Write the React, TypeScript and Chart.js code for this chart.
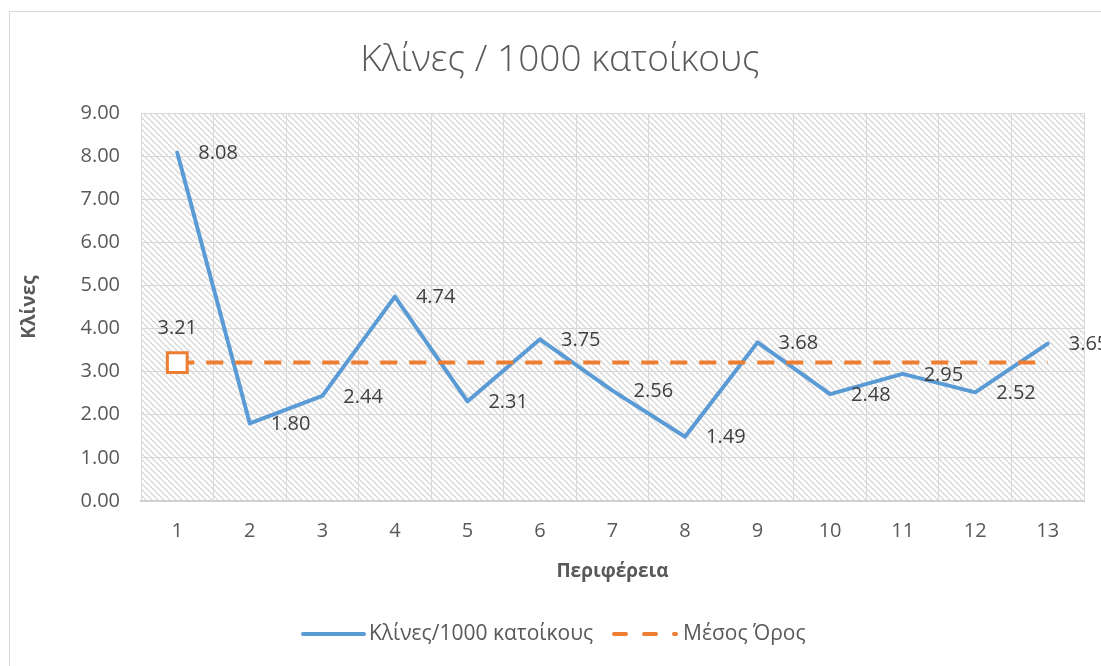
import React, { useEffect, useRef } from "react";
import { Chart, registerables } from "chart.js";

Chart.register(...registerables);

// ---- data ----
const categories = ["1", "2", "3", "4", "5", "6", "7", "8", "9", "10", "11", "12", "13"];
const bedsPer1000 = [8.08, 1.8, 2.44, 4.74, 2.31, 3.75, 2.56, 1.49, 3.68, 2.48, 2.95, 2.52, 3.65];
const meanValues = [3.21, 3.21, 3.21, 3.21, 3.21, 3.21, 3.21, 3.21, 3.21, 3.21, 3.21, 3.21, 3.21];
const yTickValues = [0, 1, 2, 3, 4, 5, 6, 7, 8, 9];
const chartTitle = "Κλίνες / 1000 κατοίκους";
const seriesNames = ["Κλίνες/1000 κατοίκους", "Μέσος Όρος"];
const xAxisTitle = "Περιφέρεια";
const yAxisTitle = "Κλίνες";

const FONT = "'Open Sans', 'Noto Sans', sans-serif";
const BLUE = "#5b9bd5";
const ORANGE = "#ed7d31";
const TEXT = "#595959";
const LABEL = "#404040";
const GRID = "#d9d9d9";

function makeHatch(): CanvasPattern | string {
  const c = document.createElement("canvas");
  c.width = 6;
  c.height = 6;
  const g = c.getContext("2d");
  if (!g) return "#fff";
  g.fillStyle = "#ffffff";
  g.fillRect(0, 0, 6, 6);
  g.strokeStyle = "#d6d6d6";
  g.lineWidth = 1.3;
  for (const o of [-6, 0, 6]) {
    g.beginPath();
    g.moveTo(o, 0);
    g.lineTo(o + 6, 6);
    g.stroke();
  }
  const p = g.createPattern(c, "repeat");
  return p || "#fff";
}

const decorPlugin = {
  id: "decor",
  beforeDraw(chart: any) {
    const { ctx, chartArea } = chart;
    ctx.save();
    ctx.fillStyle = "#ffffff";
    ctx.fillRect(0, 0, chart.width, chart.height);
    ctx.strokeStyle = GRID;
    ctx.lineWidth = 1;
    ctx.strokeRect(9.5, 11.5, 1300, 1300);
    ctx.fillStyle = makeHatch();
    ctx.fillRect(chartArea.left, chartArea.top, chartArea.right - chartArea.left, chartArea.bottom - chartArea.top);
    // chart title
    ctx.font = `300 37px ${FONT}`;
    ctx.fillStyle = TEXT;
    ctx.textAlign = "center";
    ctx.textBaseline = "middle";
    ctx.fillText(chartTitle, 560, 60);
    ctx.restore();
  },
  afterDatasetsDraw(chart: any) {
    const { ctx } = chart;
    ctx.save();
    ctx.font = `20px ${FONT}`;
    ctx.fillStyle = LABEL;
    ctx.textBaseline = "middle";
    const meta0 = chart.getDatasetMeta(chart.data.datasets.findIndex((d: any) => d.label === seriesNames[0]));
    meta0.data.forEach((pt: any, i: number) => {
      ctx.textAlign = "left";
      ctx.fillText(bedsPer1000[i].toFixed(2), pt.x + 21, pt.y + 1);
    });
    const meta1 = chart.getDatasetMeta(chart.data.datasets.findIndex((d: any) => d.label === seriesNames[1]));
    const p = meta1.data[0];
    ctx.textAlign = "center";
    ctx.fillText(meanValues[0].toFixed(2), p.x, p.y - 34);
    ctx.restore();
  },
  afterDraw(chart: any) {
    const { ctx } = chart;
    const y = 634;
    ctx.save();
    ctx.lineWidth = 4;
    ctx.strokeStyle = BLUE;
    ctx.lineCap = "round";
    ctx.beginPath();
    ctx.moveTo(303, y);
    ctx.lineTo(364, y);
    ctx.stroke();
    ctx.strokeStyle = ORANGE;
    ctx.lineCap = "round";
    ctx.setLineDash([12, 18]);
    ctx.beginPath();
    ctx.moveTo(614, y);
    ctx.lineTo(676, y);
    ctx.stroke();
    ctx.setLineDash([]);
    ctx.font = `21px ${FONT}`;
    ctx.fillStyle = TEXT;
    ctx.textAlign = "left";
    ctx.textBaseline = "middle";
    ctx.fillText(seriesNames[0], 369, y);
    ctx.fillText(seriesNames[1], 683, y);
    ctx.restore();
  },
};

export default function App() {
  const ref = useRef<HTMLCanvasElement | null>(null);
  useEffect(() => {
    if (!ref.current) return;
    const chart = new Chart(ref.current, {
      type: "line",
      data: {
        labels: categories,
        datasets: [
          {
            label: seriesNames[0],
            data: bedsPer1000,
            borderColor: BLUE,
            backgroundColor: BLUE,
            borderWidth: 4,
            pointRadius: 0,
            tension: 0,
            order: 1,
            borderJoinStyle: "round",
            borderCapStyle: "round",
          },
          {
            label: seriesNames[1],
            data: meanValues,
            borderColor: ORANGE,
            backgroundColor: "#ffffff",
            borderWidth: 4,
            borderDash: [17, 12],
            pointStyle: "rect",
            pointRadius: (c: any) => (c.dataIndex === 0 ? 14 : 0),
            pointBorderWidth: 3,
            pointBorderColor: ORANGE,
            pointBackgroundColor: "#ffffff",
            order: 0,
          },
        ],
      },
      options: {
        responsive: false,
        animation: false,
        layout: { padding: { left: 0, right: 17, top: 113, bottom: 76 } },
        plugins: {
          legend: { display: false },
          tooltip: { enabled: false },
          title: { display: false },
        },
        scales: {
          x: {
            offset: true,
            grid: { offset: true, color: GRID, lineWidth: 1, drawTicks: false },
            border: { color: "#d0d0d0", width: 2 },
            ticks: { color: TEXT, font: { family: FONT, size: 20 }, padding: 18, maxRotation: 0 },
            title: {
              display: true,
              text: xAxisTitle,
              color: TEXT,
              font: { family: FONT, size: 19, weight: "bold" },
              padding: { top: 0, bottom: 7 },
            },
            afterFit: (s: any) => {
              s.height = 89;
            },
          },
          y: {
            min: 0,
            max: 9,
            afterBuildTicks: (s: any) => {
              s.ticks = yTickValues.map((v) => ({ value: v }));
            },
            grid: { color: GRID, lineWidth: 1, drawTicks: false },
            border: { display: false },
            ticks: {
              color: TEXT,
              font: { family: FONT, size: 20 },
              padding: 21,
              callback: (v: any) => Number(v).toFixed(2),
            },
            title: {
              display: true,
              text: yAxisTitle,
              color: TEXT,
              font: { family: FONT, size: 19, weight: "bold" },
              padding: { top: 18, bottom: 0 },
            },
            afterFit: (s: any) => {
              s.width = 141;
            },
          },
        },
      },
      plugins: [decorPlugin],
    } as any);
    return () => chart.destroy();
  }, []);
  return (
    <div style={{ position: "fixed", left: 0, top: 0, width: 1101, height: 666, overflow: "hidden" }}>
      <canvas ref={ref} width={1101} height={666} style={{ display: "block" }} />
    </div>
  );
}
